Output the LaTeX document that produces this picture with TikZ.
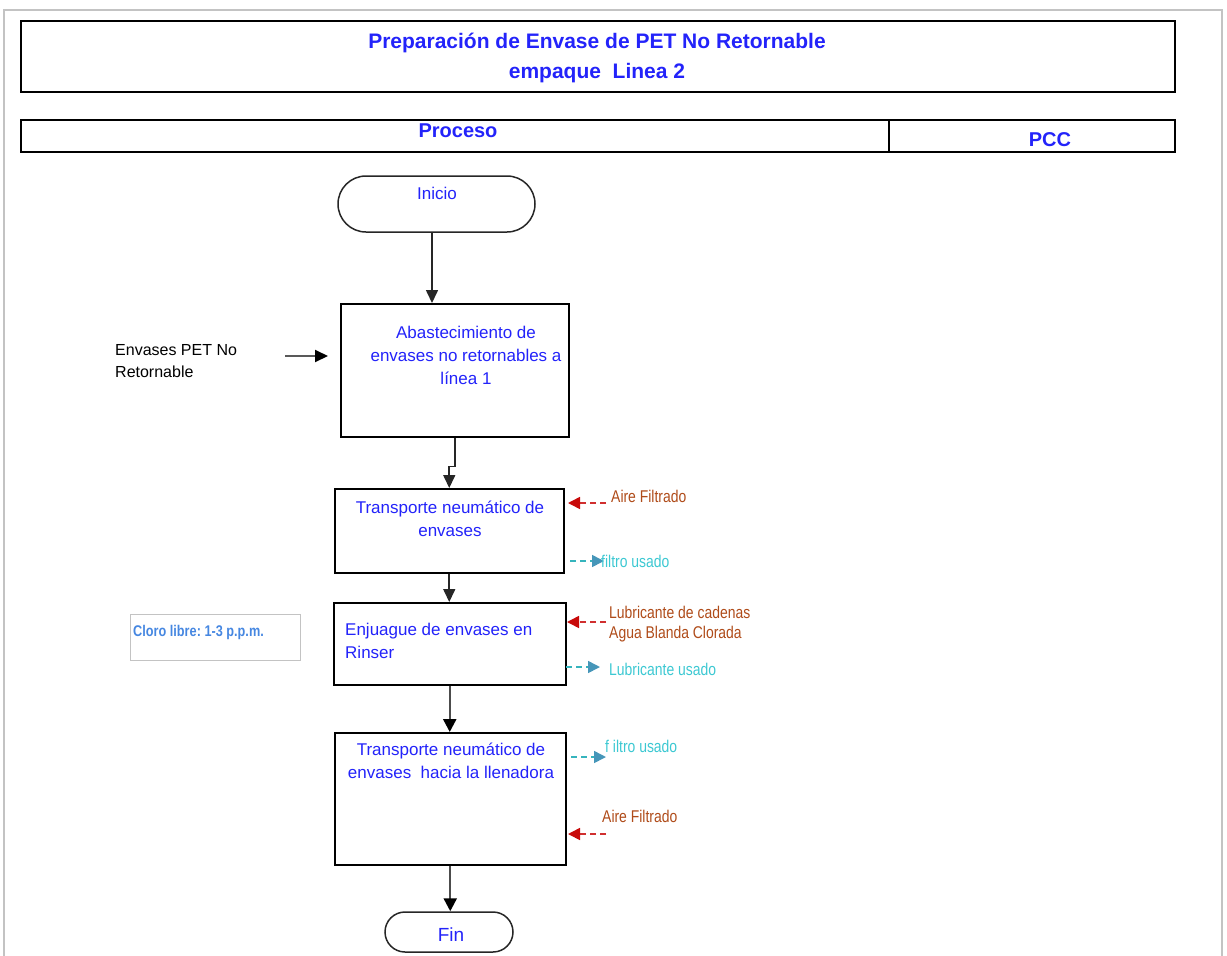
\documentclass[tikz,border=0pt]{standalone}
\usepackage{fontspec}
\setmainfont{Liberation Sans}
\newfontfamily\narrowfont[FakeStretch=0.82]{Liberation Sans}
\usetikzlibrary{arrows.meta}

\definecolor{titleblue}{RGB}{35,35,250}
\definecolor{inbrown}{RGB}{175,75,25}
\definecolor{inred}{RGB}{200,10,10}
\definecolor{outteal}{RGB}{60,200,210}
\definecolor{outtealhead}{RGB}{70,150,185}
\definecolor{notecol}{RGB}{70,135,225}
\definecolor{framegray}{RGB}{195,195,195}

\tikzset{
  procbox/.style={draw=black, line width=1.5pt, fill=white, inner sep=0pt},
  terminal/.style={draw=black!85, line width=1.5pt, fill=white, inner sep=0pt},
  headbox/.style={draw=black, line width=1.6pt, inner sep=0pt},
  bluetxt/.style={text=titleblue, font=\fontsize{17}{23}\selectfont, inner sep=0pt},
  titletxt/.style={text=titleblue, font=\bfseries\fontsize{21}{30}\selectfont, inner sep=0pt},
  inlabel/.style={text=inbrown, font=\narrowfont\fontsize{17}{20}\selectfont, inner sep=0pt, anchor=west, align=left},
  outlabel/.style={text=outteal, font=\narrowfont\fontsize{17}{20}\selectfont, inner sep=0pt, anchor=west},
  flow/.style={line width=1.6pt, black!85, -{Triangle[length=13pt,width=12pt]}},
  heavyflow/.style={line width=2.4pt, black!70, -{Triangle[length=13pt,width=13pt,color=black]}},
  infeed/.style={line width=1.6pt, dash pattern=on 6pt off 4pt, inred!85, -{Triangle[length=12pt,width=12pt,color=inred]}},
  outfeed/.style={line width=1.6pt, dash pattern=on 6pt off 4pt, outteal!90!black, -{Triangle[length=12pt,width=12pt,color=outtealhead]}},
}

\begin{document}
\begin{tikzpicture}[x=1pt,y=-1pt]
\useasboundingbox (0,0) rectangle (1227,956);

% page frame
\draw[framegray, line width=2pt] (4,960) -- (4,10) -- (1222,10) -- (1222,960);

% title block
\node[headbox, minimum width=1154pt, minimum height=71pt, anchor=north west] (title) at (20,20) {};
\node[titletxt, align=center] (titletext) at (597,58) {Preparación de Envase de PET No Retornable\\empaque\ \ Linea 2};

% column headers
\node[headbox, minimum width=868pt, minimum height=32pt, anchor=north west] (colproc) at (20,119) {};
\node[headbox, minimum width=286pt, minimum height=32pt, anchor=north west] (colpcc) at (888,119) {};
\node[titletxt, font=\bfseries\fontsize{20}{30}\selectfont] (proctext) at (458,131) {Proceso};
\node[titletxt, font=\bfseries\fontsize{20}{30}\selectfont] (pcctext) at (1050,140) {PCC};

% start / end terminals
\node[terminal, rounded corners=28pt, minimum width=197pt, minimum height=56pt] (start) at (436.5,204) {};
\node[bluetxt] (starttext) at (437,193) {Inicio};
\node[terminal, rounded corners=20pt, minimum width=128pt, minimum height=40pt] (fin) at (449,932) {};
\node[bluetxt, font=\fontsize{19}{23}\selectfont] (fintext) at (451,935) {Fin};

% process steps
\node[procbox, minimum width=228pt, minimum height=133pt, anchor=north west] (b1) at (340,303) {};
\node[bluetxt, align=center] (b1text) at (466,355) {Abastecimiento de\\envases no retornables a\\línea 1};

\node[procbox, minimum width=229pt, minimum height=84pt, anchor=north west] (b2) at (334,488) {};
\node[bluetxt, align=center] (b2text) at (450,519) {Transporte neumático de\\envases};

\node[procbox, minimum width=232pt, minimum height=82pt, anchor=north west] (b3) at (333,602) {};
\node[bluetxt, align=left, anchor=west] (b3text) at (345,641) {Enjuague de envases en\\Rinser};

\node[procbox, minimum width=231pt, minimum height=132pt, anchor=north west] (b4) at (334,732) {};
\node[bluetxt, align=center] (b4text) at (451,761) {Transporte neumático de\\envases\ \ hacia la llenadora};

% raw material input
\node[inner sep=0pt, anchor=west, align=left, font=\fontsize{16}{22}\selectfont] (rawin) at (115,361) {Envases PET No\\Retornable};
\coordinate (rawfrom) at (285,356);
\coordinate (rawto) at (328,356);
\draw[line width=2pt, black!65, -{Triangle[length=13pt,width=12pt,color=black]}] (rawfrom) -- (rawto);

% control note
\node[draw=framegray, line width=1.2pt, minimum width=170pt, minimum height=46pt, anchor=north west, inner sep=0pt] (note) at (130,614) {};
\node[inner sep=0pt, anchor=west, text=notecol, font=\narrowfont\bfseries\fontsize{15.5}{17}\selectfont] (notetext) at (133,632) {Cloro libre:\ 1-3 p.p.m.};

% main flow
\draw[flow] (start.south -| 432,0) -- (b1.north -| 432,0);
\draw[flow] (b1.south) -- ++(0,29) -| (b2.north);
\draw[flow] (b2.south) -- (b3.north -| b2.south);
\draw[heavyflow] (b3.south) -- (b4.north -| b3.south);
\draw[heavyflow] (b4.south) -- (fin.north -| b4.south);

% inputs and outputs of each step
\coordinate (air1) at (606,503);
\draw[infeed] (air1) -- (568,503);
\node[inlabel] (air1text) at (611,496) {Aire Filtrado};

\coordinate (filt1) at (570,561);
\draw[outfeed] (filt1) -- (604,561);
\node[outlabel] (filt1text) at (601,561) {filtro usado};

\coordinate (lub1) at (606,622);
\draw[infeed] (lub1) -- (567,622);
\node[inlabel] (lub1text) at (609,624) {Lubricante de cadenas\\Agua Blanda Clorada};

\coordinate (lub2) at (566,667);
\draw[outfeed] (lub2) -- (600,667);
\node[outlabel] (lub2text) at (609,669) {Lubricante usado};

\coordinate (filt2) at (571,757);
\draw[outfeed] (filt2) -- (606,757);
\node[outlabel] (filt2text) at (605,746) {f iltro usado};

\coordinate (air2) at (606,834);
\draw[infeed] (air2) -- (568,834);
\node[inlabel] (air2text) at (602,816) {Aire Filtrado};
\end{tikzpicture}
\end{document}
